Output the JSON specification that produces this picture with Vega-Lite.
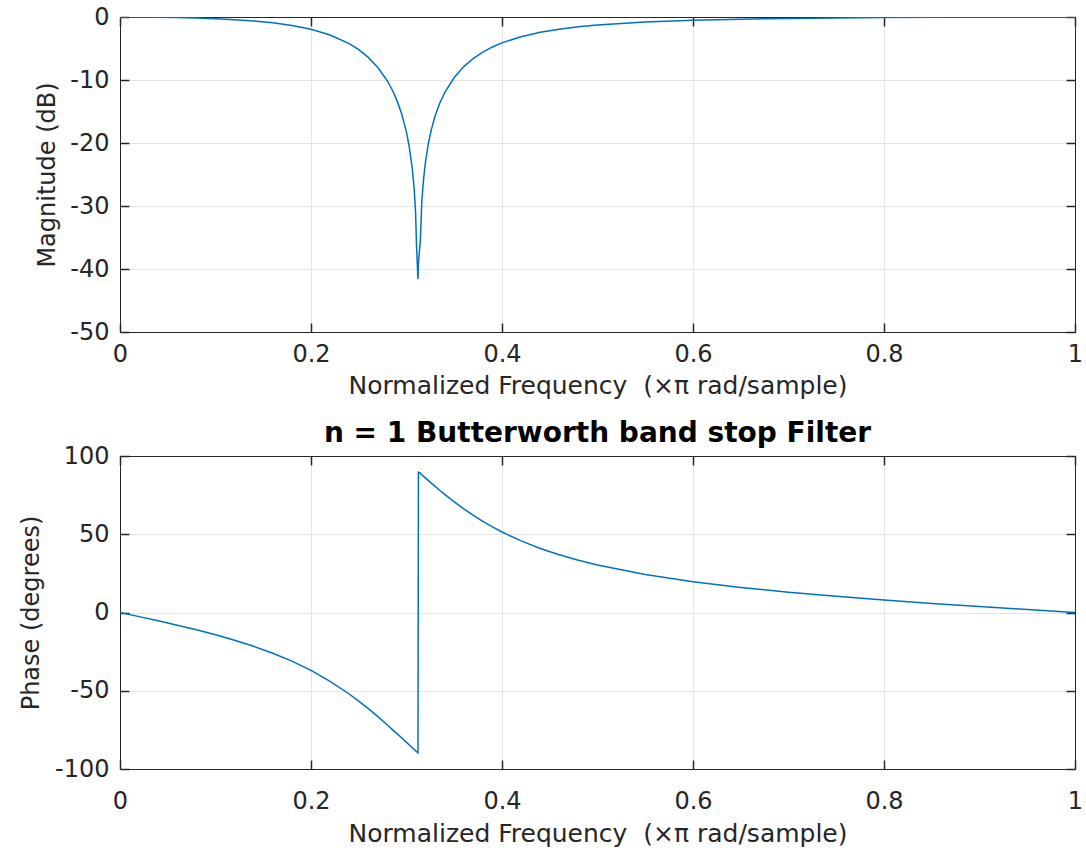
{
  "$schema": "https://vega.github.io/schema/vega-lite/v6.json",
  "background": "white",
  "padding": {"left": 19, "top": 4, "right": 4, "bottom": 0},
  "spacing": 20,
  "config": {
    "font": "DejaVu Sans",
    "view": {"stroke": "#262626", "strokeWidth": 1},
    "axis": {
      "labelFont": "DejaVu Sans",
      "titleFont": "DejaVu Sans",
      "labelColor": "#262626",
      "titleColor": "#262626",
      "labelFontSize": 24,
      "titleFontSize": 24,
      "titleFontWeight": "normal",
      "gridColor": "#e4e4e4",
      "gridWidth": 1,
      "domainColor": "#262626",
      "tickColor": "#262626",
      "tickWidth": 1.5,
      "tickSize": -9,
      "labelPadding": 20,
      "labelFlush": false
    },
    "title": {"font": "DejaVu Sans", "fontSize": 28, "fontWeight": "bold", "color": "#000000", "offset": -4}
  },
  "datasets": {
    "h": [
      {"f": 0, "mag": 0, "phase": 0},
      {"f": 0.02, "mag": -0.009, "phase": -2.64},
      {"f": 0.04, "mag": -0.038, "phase": -5.33},
      {"f": 0.06, "mag": -0.088, "phase": -8.12},
      {"f": 0.08, "mag": -0.163, "phase": -11.07},
      {"f": 0.10, "mag": -0.271, "phase": -14.25},
      {"f": 0.12, "mag": -0.423, "phase": -17.73},
      {"f": 0.14, "mag": -0.633, "phase": -21.61},
      {"f": 0.16, "mag": -0.928, "phase": -26.02},
      {"f": 0.18, "mag": -1.348, "phase": -31.10},
      {"f": 0.20, "mag": -1.954, "phase": -37.01},
      {"f": 0.22, "mag": -2.854, "phase": -43.94},
      {"f": 0.24, "mag": -4.227, "phase": -52.07},
      {"f": 0.25, "mag": -5.186, "phase": -56.60},
      {"f": 0.26, "mag": -6.410, "phase": -61.44},
      {"f": 0.27, "mag": -8.007, "phase": -66.55},
      {"f": 0.28, "mag": -10.157, "phase": -71.91},
      {"f": 0.285, "mag": -11.543, "phase": -74.65},
      {"f": 0.29, "mag": -13.238, "phase": -77.42},
      {"f": 0.295, "mag": -15.394, "phase": -80.22},
      {"f": 0.30, "mag": -18.307, "phase": -83.02},
      {"f": 0.303, "mag": -20.695, "phase": -84.70},
      {"f": 0.306, "mag": -23.998, "phase": -86.38},
      {"f": 0.308, "mag": -27.20, "phase": -87.50},
      {"f": 0.3095, "mag": -31.0, "phase": -88.3},
      {"f": 0.3105, "mag": -36.3, "phase": -88.9},
      {"f": 0.312, "mag": -41.6, "phase": -89.6},
      {"f": 0.3125, "mag": -39.0, "phase": 89.6},
      {"f": 0.3145, "mag": -35.5, "phase": 89.0},
      {"f": 0.316, "mag": -29.37, "phase": 88.05},
      {"f": 0.318, "mag": -25.50, "phase": 86.96},
      {"f": 0.320, "mag": -22.87, "phase": 85.88},
      {"f": 0.323, "mag": -20.00, "phase": 84.26},
      {"f": 0.326, "mag": -17.87, "phase": 82.66},
      {"f": 0.33, "mag": -15.69, "phase": 80.55},
      {"f": 0.335, "mag": -13.62, "phase": 77.97},
      {"f": 0.34, "mag": -12.006, "phase": 75.46},
      {"f": 0.35, "mag": -9.600, "phase": 70.67},
      {"f": 0.36, "mag": -7.875, "phase": 66.18},
      {"f": 0.37, "mag": -6.574, "phase": 62.02},
      {"f": 0.38, "mag": -5.560, "phase": 58.19},
      {"f": 0.39, "mag": -4.754, "phase": 54.66},
      {"f": 0.40, "mag": -4.101, "phase": 51.42},
      {"f": 0.42, "mag": -3.122, "phase": 45.73},
      {"f": 0.44, "mag": -2.434, "phase": 40.93},
      {"f": 0.46, "mag": -1.936, "phase": 36.85},
      {"f": 0.48, "mag": -1.563, "phase": 33.35},
      {"f": 0.50, "mag": -1.278, "phase": 30.33},
      {"f": 0.55, "mag": -0.804, "phase": 24.27},
      {"f": 0.60, "mag": -0.522, "phase": 19.67},
      {"f": 0.65, "mag": -0.343, "phase": 16.00},
      {"f": 0.70, "mag": -0.224, "phase": 12.95},
      {"f": 0.75, "mag": -0.142, "phase": 10.31},
      {"f": 0.80, "mag": -0.084, "phase": 7.97},
      {"f": 0.85, "mag": -0.045, "phase": 5.82},
      {"f": 0.90, "mag": -0.019, "phase": 3.81},
      {"f": 0.95, "mag": -0.005, "phase": 1.89},
      {"f": 1.0, "mag": 0, "phase": 0}
    ]
  },
  "vconcat": [
    {
      "width": 955,
      "height": 315,
      "data": {"name": "h"},
      "layer": [
        {
          "mark": {"type": "line", "color": "#0072BD", "strokeWidth": 1.5, "clip": true},
          "encoding": {
            "x": {"field": "f", "type": "quantitative", "scale": {"domain": [0, 1], "nice": false},
              "axis": {"orient": "bottom", "values": [0, 0.2, 0.4, 0.6, 0.8, 1], "labelExpr": "'' + datum.value", "title": "Normalized Frequency \u00a0(×π rad/sample)", "titleFontSize": 25, "labelPadding": 19, "titlePadding": 7, "grid": true}},
            "y": {"field": "mag", "type": "quantitative", "scale": {"domain": [-50, 0], "nice": false},
              "axis": {"orient": "left", "values": [-50, -40, -30, -20, -10, 0], "labelExpr": "'' + datum.value", "title": "Magnitude (dB)", "titlePadding": 10, "grid": true}}
          }
        },
        {
          "mark": {"type": "line", "strokeOpacity": 0},
          "encoding": {
            "x": {"field": "f", "type": "quantitative", "axis": {"orient": "top", "values": [0, 0.2, 0.4, 0.6, 0.8, 1], "labels": false, "title": null, "grid": false}},
            "y": {"field": "mag", "type": "quantitative", "axis": {"orient": "right", "values": [-50, -40, -30, -20, -10, 0], "labels": false, "title": null, "grid": false}}
          }
        }
      ],
      "resolve": {"axis": {"x": "independent", "y": "independent"}}
    },
    {
      "width": 955,
      "height": 313,
      "data": {"name": "h"},
      "title": {"text": "n = 1 Butterworth band stop Filter"},
      "layer": [
        {
          "mark": {"type": "line", "color": "#0072BD", "strokeWidth": 1.5, "clip": true},
          "encoding": {
            "x": {"field": "f", "type": "quantitative", "scale": {"domain": [0, 1], "nice": false},
              "axis": {"orient": "bottom", "values": [0, 0.2, 0.4, 0.6, 0.8, 1], "labelExpr": "'' + datum.value", "title": "Normalized Frequency \u00a0(×π rad/sample)", "titleFontSize": 25, "labelPadding": 29, "titlePadding": 8, "grid": true}},
            "y": {"field": "phase", "type": "quantitative", "scale": {"domain": [-100, 100], "nice": false},
              "axis": {"orient": "left", "values": [-100, -50, 0, 50, 100], "labelExpr": "'' + datum.value", "title": "Phase (degrees)", "titlePadding": 11, "grid": true}}
          }
        },
        {
          "mark": {"type": "line", "strokeOpacity": 0},
          "encoding": {
            "x": {"field": "f", "type": "quantitative", "axis": {"orient": "top", "values": [0, 0.2, 0.4, 0.6, 0.8, 1], "labels": false, "title": null, "grid": false}},
            "y": {"field": "phase", "type": "quantitative", "axis": {"orient": "right", "values": [-100, -50, 0, 50, 100], "labels": false, "title": null, "grid": false}}
          }
        }
      ],
      "resolve": {"axis": {"x": "independent", "y": "independent"}}
    }
  ]
}
